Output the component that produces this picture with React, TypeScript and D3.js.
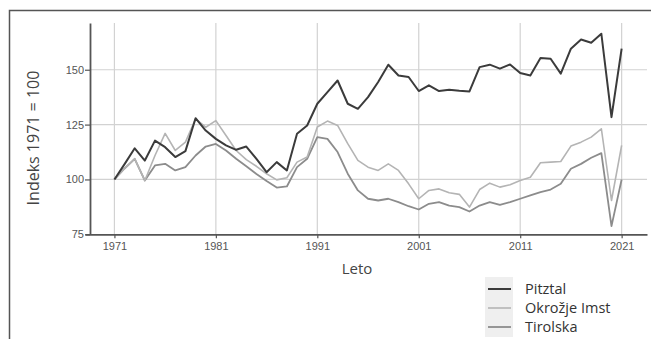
import { useEffect, useRef } from 'react'
import * as d3 from 'd3'

const years = d3.range(1971, 2022)

const pitztal = [100, 107, 114.2, 108.6, 117.7, 114.7, 110.2, 112.9, 127.9, 122.3,
  118.5, 115.5, 113.5, 115, 109.4, 103.3, 107.9, 104.1, 120.8, 124.6,
  134.5, 139.8, 145.1, 134.5, 132.2, 137.5, 144.4, 152.3, 147.4, 146.7,
  140.3, 142.9, 140.3, 140.9, 140.4, 140.1, 151.2, 152.3, 150.5, 152.4,
  148.5, 147.4, 155.3, 155, 148.2, 159.6, 163.8, 162.3, 166.4, 128.4, 159.6]

const imst = [100, 105, 109.4, 99.5, 110.9, 121, 113.2, 117, 127.6, 123.8,
  126.8, 120, 113.2, 109, 106, 102.6, 99.8, 100.8, 107.9, 110.2,
  123.9, 126.6, 124.6, 116.3, 108.7, 105.6, 104.1, 107.1, 104.1, 98,
  91.2, 95, 95.7, 93.9, 93.2, 87.4, 95.4, 98.3, 96.5, 97.6,
  99.5, 101, 107.6, 107.9, 108.2, 115.2, 117, 119.3, 123.1, 90.4, 115.5]

const tirolska = [100, 105, 109.4, 99.5, 106.4, 107.1, 104.1, 105.6, 110.9, 115,
  116.2, 113.2, 109.4, 106, 102.5, 99.3, 96.3, 96.8, 105.6, 109.4,
  119.3, 118.5, 112.5, 102.6, 95, 91.2, 90.4, 91.2, 89.7, 87.8,
  86.3, 88.9, 89.7, 88.1, 87.4, 85.4, 88.1, 89.7, 88.4, 89.7,
  91.2, 92.7, 94.2, 95.4, 98, 104.9, 107.1, 109.9, 112, 78.7, 100]

const xTicks = [1971, 1981, 1991, 2001, 2011, 2021]
const yTicks = [75, 100, 125, 150]

const series = [
  { name: 'Pitztal', values: pitztal, color: '#3b3b3b', width: 2 },
  { name: 'Okrožje Imst', values: imst, color: '#b4b4b4', width: 1.6 },
  { name: 'Tirolska', values: tirolska, color: '#8c8c8c', width: 1.8 },
]

export default function App() {
  const svgRef = useRef<SVGSVGElement>(null)
  const width = 651, height = 339

  useEffect(() => {
    const svg = d3.select(svgRef.current)
    svg.selectAll('*').remove()

    const x = d3.scaleLinear().domain([1968.1, 2023.5]).range([85, 647])
    const y = d3.scaleLinear().domain([75, 171.3]).range([234.3, 23])

    // frame
    svg.append('path')
      .attr('d', `M9.5,${height} L9.5,10.5 L${width},10.5`)
      .attr('fill', 'none')
      .attr('stroke', '#555')
      .attr('stroke-width', 1.5)

    const tickFont = '"Liberation Sans", Arial, sans-serif'

    // grid
    svg.append('g').selectAll('line')
      .data(xTicks)
      .join('line')
      .attr('x1', d => x(d)).attr('x2', d => x(d))
      .attr('y1', y(171.3)).attr('y2', y(75))
      .attr('stroke', '#d2d2d2').attr('stroke-width', 1.2)

    svg.append('g').selectAll('line')
      .data(yTicks.filter(d => d > 75))
      .join('line')
      .attr('x1', 90).attr('x2', 647)
      .attr('y1', d => y(d)).attr('y2', d => y(d))
      .attr('stroke', '#d2d2d2').attr('stroke-width', 1.2)

    // axes
    const yAxis = d3.axisLeft(y).tickValues(yTicks).tickSize(5).tickSizeOuter(0)
    const gy = svg.append('g').attr('transform', 'translate(90,0)').call(yAxis)
    const xAxis = d3.axisBottom(x).tickValues(xTicks).tickSize(4).tickSizeOuter(0)
      .tickFormat(d => String(d))
    const gx = svg.append('g').attr('transform', `translate(0,${y(75)})`).call(xAxis)

    ;[gx, gy].forEach(g => {
      g.select('.domain').attr('stroke', '#555').attr('stroke-width', 1.8)
      g.selectAll('.tick line').attr('stroke', '#555').attr('stroke-width', 1.2)
      g.selectAll('.tick text')
        .attr('fill', '#555')
        .attr('font-size', 11)
        .attr('font-family', tickFont)
    })
    gy.selectAll('.tick text').attr('x', -6)
    gx.selectAll('.tick text').attr('y', 8)

    // lines
    const line = d3.line<number>()
      .x((_, i) => x(years[i]))
      .y(d => y(d))

    series.slice().reverse().forEach(s => {
      svg.append('path')
        .datum(s.values)
        .attr('fill', 'none')
        .attr('stroke', s.color)
        .attr('stroke-width', s.width)
        .attr('stroke-linejoin', 'round')
        .attr('d', line)
    })

    const titleFont = '"Open Sans", "Noto Sans", sans-serif'

    svg.append('text')
      .attr('transform', 'translate(39,138) rotate(-90)')
      .attr('text-anchor', 'middle')
      .attr('font-family', titleFont)
      .attr('font-size', 16)
      .attr('fill', '#444')
      .text('Indeks 1971 = 100')

    svg.append('text')
      .attr('x', 357)
      .attr('y', 274)
      .attr('text-anchor', 'middle')
      .attr('font-family', titleFont)
      .attr('font-size', 15)
      .attr('fill', '#444')
      .text('Leto')

    // legend
    const lg = svg.append('g').attr('transform', 'translate(485,277)')
    lg.append('rect')
      .attr('width', 28).attr('height', 60)
      .attr('fill', '#efefef')
    series.forEach((s, i) => {
      const cy = 12 + i * 19
      lg.append('line')
        .attr('x1', 3).attr('x2', 26)
        .attr('y1', cy).attr('y2', cy)
        .attr('stroke', s.color).attr('stroke-width', s.width)
      lg.append('text')
        .attr('x', 40).attr('y', cy + 5)
        .attr('font-family', titleFont)
        .attr('font-size', 14.5)
        .attr('fill', '#333')
        .text(s.name)
    })
  }, [])

  return (
    <svg ref={svgRef} width={width} height={height}
      style={{ position: 'absolute', left: 0, top: 0, background: '#fff' }} />
  )
}
